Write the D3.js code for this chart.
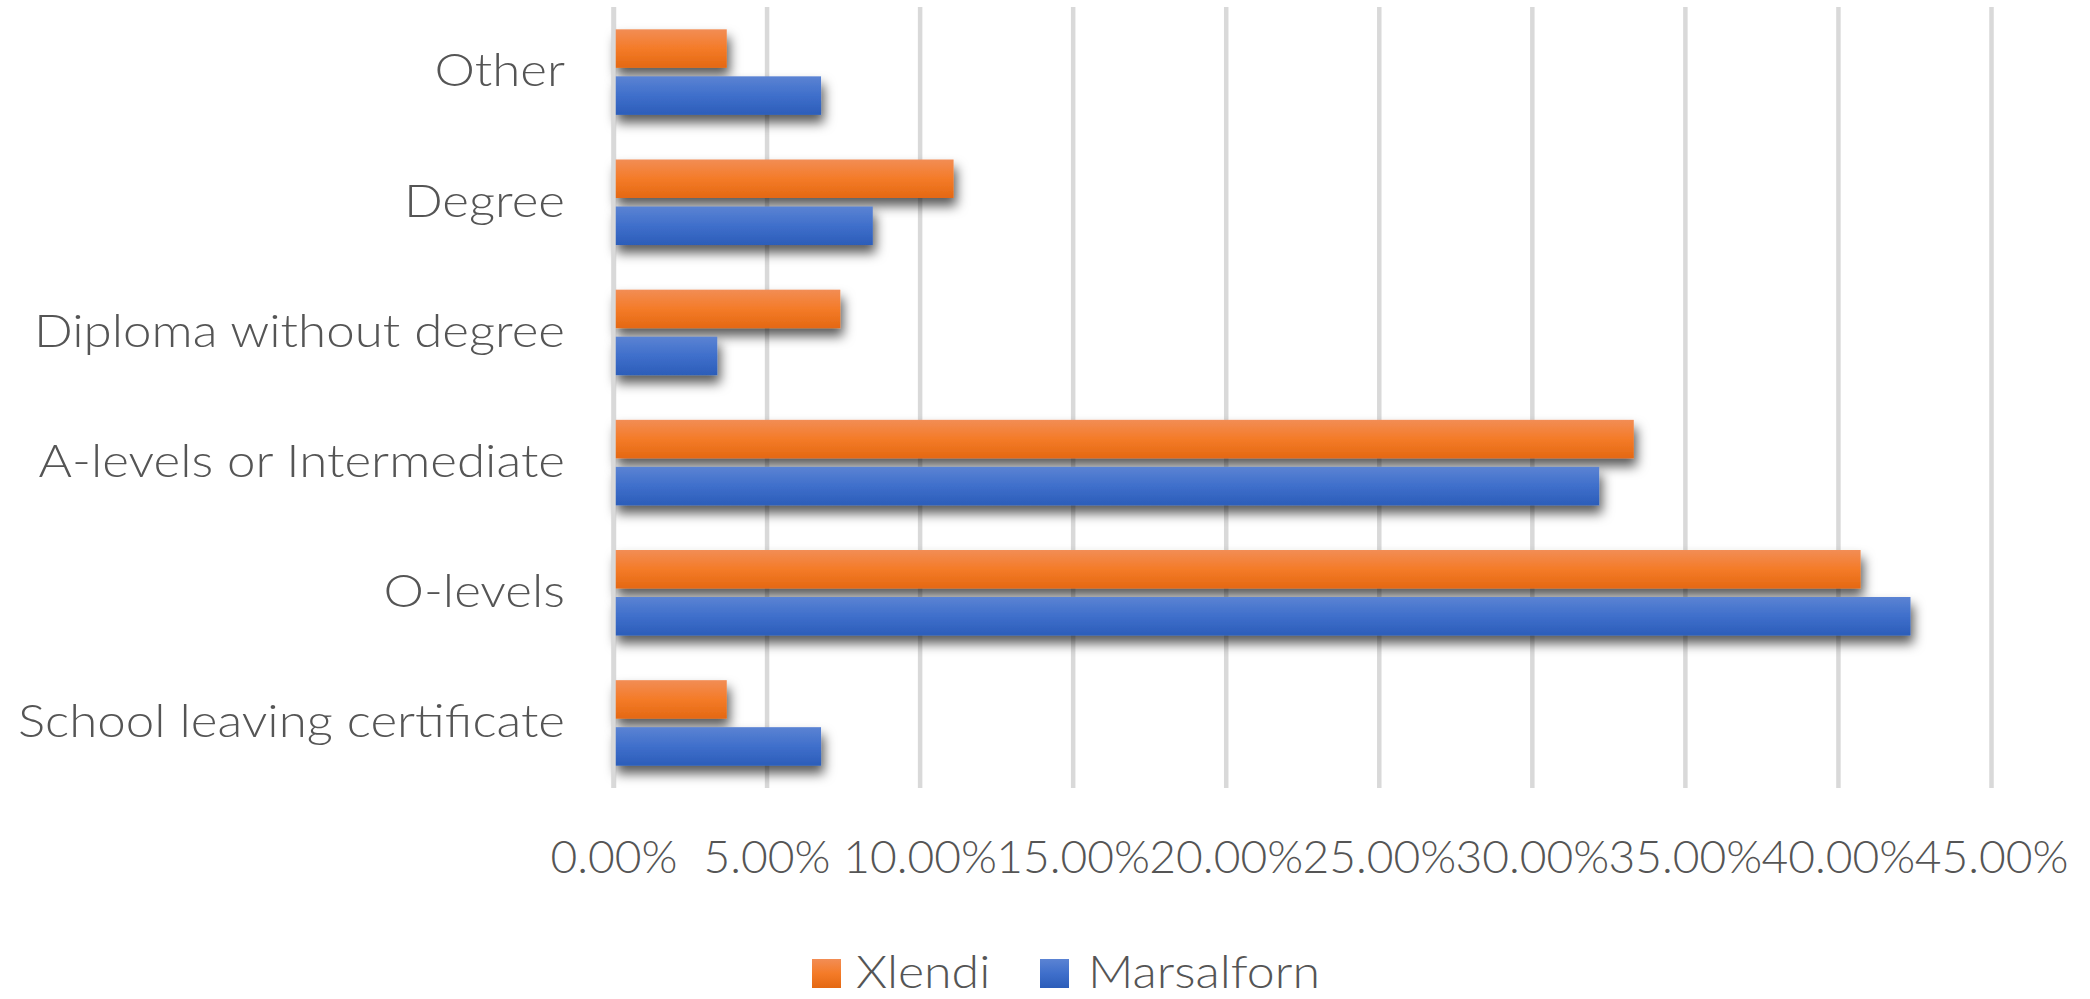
<!DOCTYPE html>
<html>
<head>
<meta charset="utf-8">
<script src="https://cdn.jsdelivr.net/npm/d3@7"></script>
<style>
  html, body { margin: 0; padding: 0; background: #ffffff; }
  svg { display: block; }
  text { font-family: Lato, "Open Sans", "Noto Sans", sans-serif; font-weight: 300; fill: #555555; }
</style>
</head>
<body>
<script>
// Highest level of education, share of respondents per locality (%)
const categories = [
  "School leaving certificate",
  "O-levels",
  "A-levels or Intermediate",
  "Diploma without degree",
  "Degree",
  "Other"
];
const seriesNames = ["Xlendi", "Marsalforn"];
const xlendi     = [3.70, 40.74, 33.33, 7.41, 11.11, 3.70];
const marsalforn = [6.78, 42.37, 32.20, 3.39, 8.47, 6.78];
const tickValues = [0, 5, 10, 15, 20, 25, 30, 35, 40, 45];

const W = 2090, H = 999;
const plot = { left: 613.5, right: 1991, top: 7, bottom: 788 };
const fontSize = 46;

const svg = d3.select("body").append("svg")
  .attr("width", W).attr("height", H);

const defs = svg.append("defs");

// vertical sheen on the bars
const gradients = {
  Xlendi: [["0%", "#F28D55"], ["50%", "#F47B28"], ["100%", "#E46812"]],
  Marsalforn: [["0%", "#5B83D3"], ["50%", "#3F6FCB"], ["100%", "#2C5DB9"]]
};
Object.entries(gradients).forEach(([name, stops]) => {
  const g = defs.append("linearGradient")
    .attr("id", "grad-" + name)
    .attr("x1", 0).attr("y1", 0).attr("x2", 0).attr("y2", 1);
  stops.forEach(([o, c]) => g.append("stop").attr("offset", o).attr("stop-color", c));
});

// soft drop shadow beneath each bar
const shadow = defs.append("filter")
  .attr("id", "bar-shadow")
  .attr("filterUnits", "userSpaceOnUse")
  .attr("x", 0).attr("y", 0).attr("width", W).attr("height", H);
shadow.append("feDropShadow")
  .attr("dx", 3).attr("dy", 8)
  .attr("stdDeviation", 6)
  .attr("flood-color", "#000")
  .attr("flood-opacity", 0.65);

const x = d3.scaleLinear().domain([0, 45]).range([plot.left, plot.right]);

const y0 = d3.scaleBand()
  .domain(categories.slice().reverse())
  .range([plot.top, plot.bottom])
  .padding(0);

const y1 = d3.scaleBand()
  .domain(seriesNames)
  .range([0, y0.bandwidth()])
  .paddingInner(0.181)
  .paddingOuter(0.475);

const rows = categories.map((c, i) => ({
  category: c,
  values: [
    { series: "Xlendi", value: xlendi[i] },
    { series: "Marsalforn", value: marsalforn[i] }
  ]
}));

// vertical gridlines and percentage tick labels
const xAxis = d3.axisBottom(x)
  .tickValues(tickValues)
  .tickSize(-(plot.bottom - plot.top))
  .tickFormat(d => d3.format(".2f")(d) + "%");

const gx = svg.append("g")
  .attr("transform", `translate(0,${plot.bottom})`)
  .call(xAxis);
gx.select(".domain").remove();
gx.selectAll(".tick line")
  .attr("stroke", "#D9D9D9")
  .attr("stroke-width", 4.5);
gx.selectAll(".tick text")
  .attr("y", 85)
  .attr("dy", 0)
  .style("font-size", fontSize + "px")
  .style("fill", "#555555");

// bars
const barGroups = svg.append("g").selectAll("g")
  .data(rows)
  .join("g")
  .attr("transform", d => `translate(0,${y0(d.category)})`);

barGroups.selectAll("rect")
  .data(d => d.values)
  .join("rect")
  .attr("x", x(0))
  .attr("y", d => y1(d.series))
  .attr("width", d => x(d.value) - x(0))
  .attr("height", y1.bandwidth())
  .attr("fill", d => `url(#grad-${d.series})`)
  .attr("filter", "url(#bar-shadow)");

// zero line drawn over the bar bases
svg.append("line")
  .attr("x1", x(0)).attr("x2", x(0))
  .attr("y1", plot.top).attr("y2", plot.bottom)
  .attr("stroke", "#D9D9D9")
  .attr("stroke-width", 4.5);

// category labels
const yAxis = d3.axisLeft(y0).tickSize(0).tickPadding(48.5);
const gy = svg.append("g")
  .attr("transform", `translate(${plot.left},0)`)
  .call(yAxis);
gy.select(".domain").remove();
gy.selectAll(".tick text")
  .attr("dy", "0.31em")
  .style("font-size", fontSize + "px")
  .style("fill", "#555555");

// legend
const legendItems = [
  { name: "Xlendi", swatchX: 812, textX: 856 },
  { name: "Marsalforn", swatchX: 1040, textX: 1088 }
];
const legend = svg.append("g");
legend.selectAll("rect")
  .data(legendItems)
  .join("rect")
  .attr("x", d => d.swatchX)
  .attr("y", 959)
  .attr("width", 29)
  .attr("height", 29)
  .attr("fill", d => `url(#grad-${d.name})`);
legend.selectAll("text")
  .data(legendItems)
  .join("text")
  .attr("x", d => d.textX)
  .attr("y", 988)
  .style("font-size", fontSize + "px")
  .text(d => d.name);

// scale each text group horizontally so its reference string spans the set width
function fitGroup(sel, refText, targetWidth) {
  let refW = null;
  sel.each(function () {
    if (this.textContent === refText) refW = this.getComputedTextLength();
  });
  if (!refW) return;
  const k = targetWidth / refW;
  sel.each(function () {
    const w = this.getComputedTextLength();
    d3.select(this)
      .attr("textLength", w * k)
      .attr("lengthAdjust", "spacingAndGlyphs");
  });
}
fitGroup(gy.selectAll(".tick text"), "School leaving certificate", 547);
fitGroup(gx.selectAll(".tick text"), "0.00%", 127);
fitGroup(legend.selectAll("text"), "Marsalforn", 232);
</script>
</body>
</html>
